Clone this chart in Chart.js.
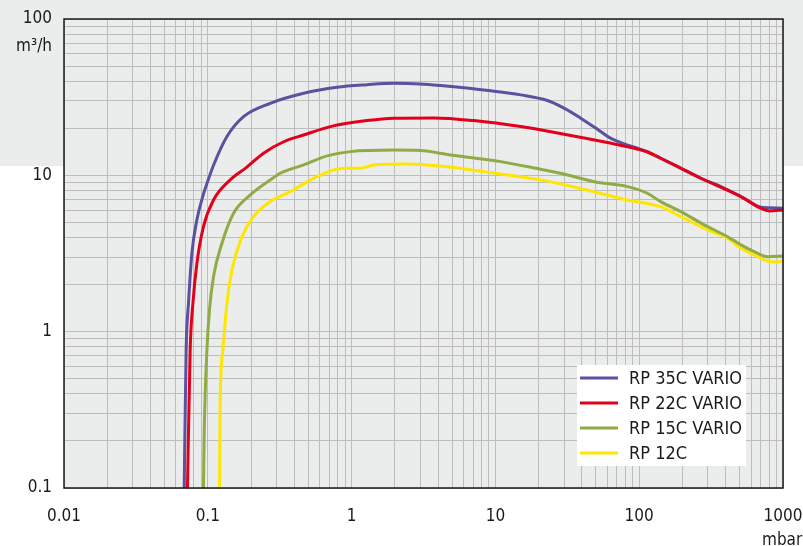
<!DOCTYPE html>
<html>
<head>
<meta charset="utf-8">
<script src="https://cdn.jsdelivr.net/npm/chart.js@4"></script>
<style>
  body { margin: 0; background: #ffffff; }
  canvas { display: block; }
</style>
</head>
<body>
<canvas id="pump-chart" width="803" height="546"></canvas>
<script>
// Pressure (mbar) and pumping speed (m³/h)
const rp35Pressure = [0.0685, 0.0707, 0.0734, 0.0775, 0.084, 0.0933, 0.1, 0.1096, 0.1358, 0.1773, 0.272, 0.464, 0.792, 1.28, 1.97, 3.0, 4.15, 9.3, 15, 23, 30, 39.2, 51.2, 61.7, 74.5, 97.3, 114, 141, 185, 268, 370, 510, 700, 800, 1000];
const rp35Flow = [0.1, 0.764, 1.52, 3.17, 5.2, 7.6, 9.2, 11.6, 17.7, 23.75, 28.9, 33.5, 36.6, 38.0, 38.8, 38.4, 37.5, 34.7, 32.7, 30.1, 26.9, 23.2, 19.7, 17.5, 16.2, 14.9, 14.18, 12.86, 11.37, 9.58, 8.47, 7.31, 6.25, 6.2, 6.16];

const rp22Pressure = [0.0722, 0.0754, 0.0788, 0.084, 0.0933, 0.1096, 0.1432, 0.185, 0.244, 0.337, 0.464, 0.712, 1.28, 1.97, 3.73, 7.08, 15, 30, 60, 97, 114, 141, 185, 268, 510, 700, 800, 1000];
const rp22Flow = [0.1, 0.764, 1.52, 2.74, 4.70, 6.96, 9.35, 11.2, 13.85, 16.4, 18.1, 20.5, 22.4, 23.2, 23.3, 22.4, 20.5, 18.3, 16.2, 14.75, 14.1, 12.86, 11.37, 9.58, 7.31, 6.16, 5.92, 6.01];

const rp15Pressure = [0.0933, 0.0944, 0.0986, 0.1027, 0.1096, 0.1254, 0.151, 0.1974, 0.272, 0.319, 0.464, 0.675, 0.981, 1.97, 3.0, 4.88, 10.9, 20.6, 28.4, 48.5, 82.9, 114, 141, 195, 283, 412, 510, 631, 783, 1000];
const rp15Flow = [0.1, 0.225, 0.764, 1.377, 2.25, 3.68, 5.72, 7.49, 9.35, 10.31, 11.66, 13.31, 14.18, 14.5, 14.4, 13.5, 12.24, 10.94, 10.31, 9.11, 8.47, 7.68, 6.79, 5.86, 4.82, 4.05, 3.59, 3.25, 3.02, 3.05];

const rp12Pressure = [0.1207, 0.122, 0.1274, 0.1358, 0.1472, 0.1728, 0.208, 0.272, 0.375, 0.575, 0.881, 1.152, 1.425, 2.435, 4.15, 8.32, 20.6, 28.4, 48.5, 82.9, 141, 195, 299, 412, 510, 631, 741, 870, 1000];
const rp12Flow = [0.1, 0.366, 0.764, 1.52, 2.48, 4.05, 5.44, 6.79, 7.86, 9.81, 11.1, 11.1, 11.66, 11.83, 11.48, 10.56, 9.35, 8.81, 7.86, 6.96, 6.30, 5.44, 4.47, 3.96, 3.42, 3.10, 2.88, 2.79, 2.83];

const seriesNames = ['RP 35C VARIO', 'RP 22C VARIO', 'RP 15C VARIO', 'RP 12C'];
const seriesColors = ['#5a519f', '#e3001b', '#8fab44', '#ffe600'];

const xDecades = [0.01, 0.1, 1, 10, 100, 1000];
const xTickLabels = ['0.01', '0.1', '1', '10', '100', '1000'];
const yDecades = [0.1, 1, 10, 100];
const yTickLabels = ['0.1', '1', '10', '100'];
const xUnit = 'mbar';
const yUnit = 'm³/h';

const fontFamily = '"DejaVu Sans Condensed", "Liberation Sans Narrow", "DejaVu Sans", sans-serif';

function toPoints(xs, ys) {
    return xs.map((x, i) => ({ x: x, y: ys[i] }));
}

// gridlines at 1..9 of every decade
function decadeGrid(decades) {
    const values = [];
    for (let i = 0; i < decades.length - 1; i++) {
        for (let m = 1; m < 10; m++) values.push(m * decades[i]);
    }
    values.push(decades[decades.length - 1]);
    return values;
}

function decadeLabel(value, decades, labels) {
    const i = decades.findIndex(d => Math.abs(value / d - 1) < 1e-9);
    return i >= 0 ? labels[i] : '';
}

// backgrounds, frame, unit labels and the boxed legend
const framePlugin = {
    id: 'frame',
    beforeDraw(chart) {
        const ctx = chart.ctx;
        const area = chart.chartArea;
        ctx.save();
        ctx.fillStyle = '#ebecec';
        ctx.fillRect(0, 0, chart.width, 166);
        ctx.fillRect(area.left, area.top, area.right - area.left, area.bottom - area.top);
        ctx.restore();
    },
    afterDraw(chart) {
        const ctx = chart.ctx;
        const area = chart.chartArea;
        ctx.save();
        ctx.strokeStyle = '#1a1a1a';
        ctx.lineWidth = 1.5;
        ctx.strokeRect(area.left, area.top, area.right - area.left, area.bottom - area.top);

        ctx.fillStyle = '#1a1a1a';
        ctx.font = '17px ' + fontFamily;
        ctx.textBaseline = 'middle';
        ctx.textAlign = 'right';
        ctx.fillText(yUnit, area.left - 12, 47);
        ctx.textAlign = 'left';
        ctx.fillText(xUnit, area.right - 21, 541);

        // legend
        const lx = 577, ly = 365;
        ctx.fillStyle = '#ffffff';
        ctx.fillRect(lx, ly, 169, 101);
        ctx.font = '18px ' + fontFamily;
        chart.data.datasets.forEach((ds, i) => {
            const y = ly + 13 + i * 25;
            ctx.strokeStyle = ds.borderColor;
            ctx.lineWidth = 3;
            ctx.beginPath();
            ctx.moveTo(lx + 3, y);
            ctx.lineTo(lx + 41, y);
            ctx.stroke();
            ctx.fillStyle = '#1a1a1a';
            ctx.fillText(ds.label, lx + 52, y + 1);
        });
        ctx.restore();
    }
};

const seriesData = [
    toPoints(rp35Pressure, rp35Flow),
    toPoints(rp22Pressure, rp22Flow),
    toPoints(rp15Pressure, rp15Flow),
    toPoints(rp12Pressure, rp12Flow)
];
const drawOrder = [1, 0, 2, 3];

new Chart(document.getElementById('pump-chart'), {
    type: 'line',
    data: {
        datasets: seriesData.map((pts, i) => ({
            label: seriesNames[i],
            data: pts,
            borderColor: seriesColors[i],
            backgroundColor: seriesColors[i],
            borderWidth: 3,
            pointRadius: 0,
            cubicInterpolationMode: 'monotone',
            order: drawOrder[i]
        }))
    },
    options: {
        responsive: false,
        animation: false,
        layout: { padding: { top: 19, right: 20, left: 0, bottom: 0 } },
        plugins: {
            legend: { display: false },
            tooltip: { enabled: false }
        },
        scales: {
            x: {
                type: 'logarithmic',
                min: 0.01,
                max: 1000,
                afterBuildTicks: scale => {
                    scale.ticks = decadeGrid(xDecades).map(v => ({ value: v }));
                },
                afterFit: scale => {
                    scale.height = 58;
                    scale.paddingLeft = 0;
                    scale.paddingRight = 0;
                },
                grid: { color: '#bdbdbd', lineWidth: 1, drawTicks: false },
                border: { display: false },
                ticks: {
                    autoSkip: false,
                    maxRotation: 0,
                    padding: 18,
                    color: '#1a1a1a',
                    font: { family: fontFamily, size: 17 },
                    callback: v => decadeLabel(v, xDecades, xTickLabels)
                }
            },
            y: {
                type: 'logarithmic',
                min: 0.1,
                max: 100,
                afterBuildTicks: scale => {
                    scale.ticks = decadeGrid(yDecades).map(v => ({ value: v }));
                },
                afterFit: scale => {
                    scale.width = 64;
                    scale.paddingTop = 0;
                    scale.paddingBottom = 0;
                },
                grid: { color: '#bdbdbd', lineWidth: 1, drawTicks: false },
                border: { display: false },
                ticks: {
                    autoSkip: false,
                    padding: 12,
                    color: '#1a1a1a',
                    font: { family: fontFamily, size: 17 },
                    callback: v => decadeLabel(v, yDecades, yTickLabels)
                }
            }
        }
    },
    plugins: [framePlugin]
});
</script>
</body>
</html>
